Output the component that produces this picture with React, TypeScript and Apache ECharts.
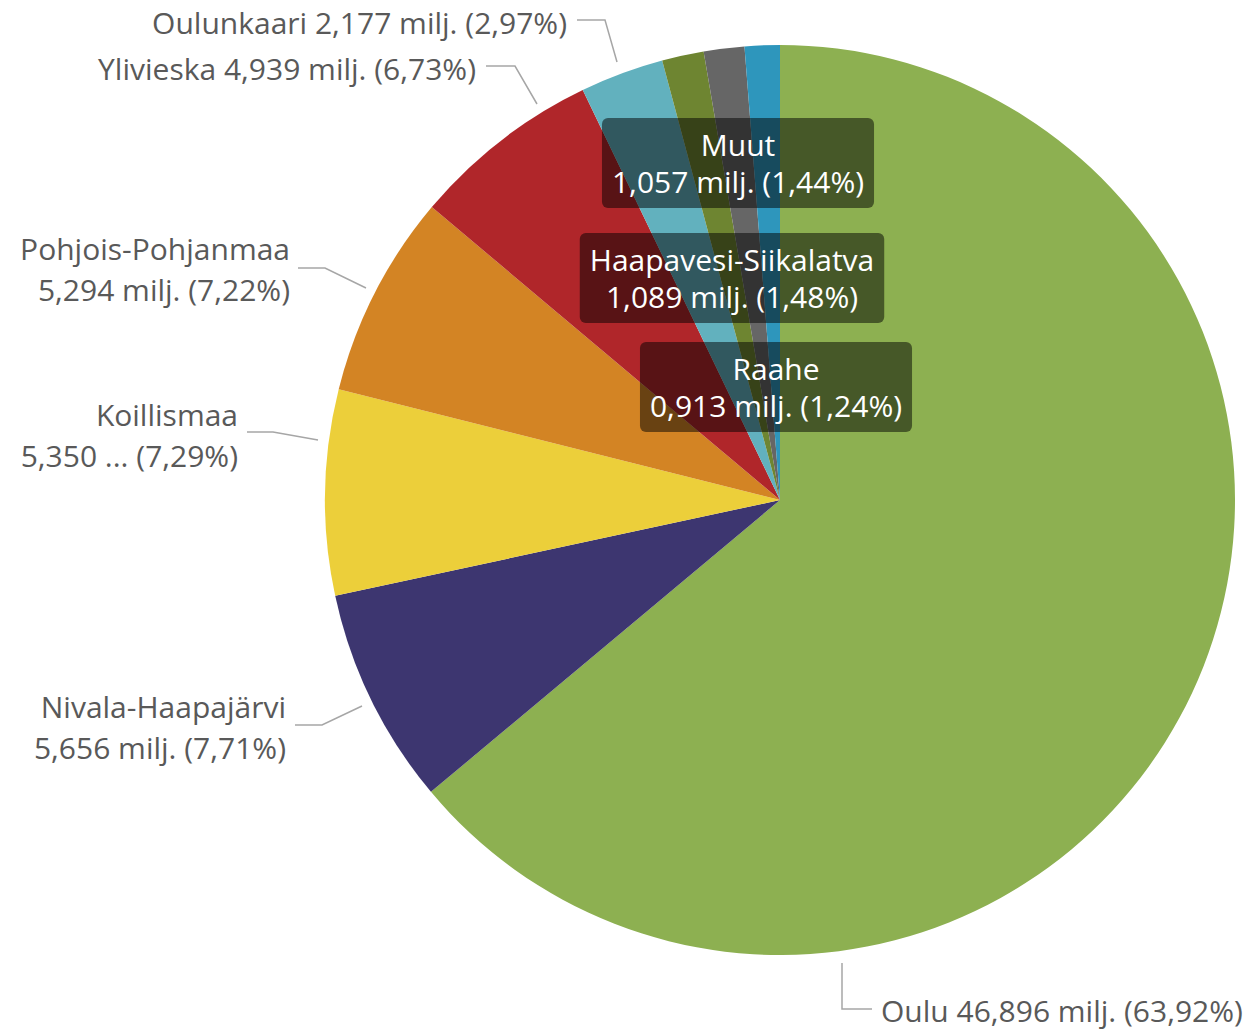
import React, { useEffect, useRef } from "react";
import * as echarts from "echarts";

const categories = [
  "Oulu",
  "Nivala-Haapajärvi",
  "Koillismaa",
  "Pohjois-Pohjanmaa",
  "Ylivieska",
  "Oulunkaari",
  "Haapavesi-Siikalatva",
  "Muut",
  "Raahe",
];
const values = [46.896, 5.656, 5.35, 5.294, 4.939, 2.177, 1.089, 1.057, 0.913];
const unitLabels = ["milj.", "milj.", "...", "milj.", "milj.", "milj.", "milj.", "milj.", "milj."];
const twoLineLabel = [false, true, true, true, false, false, true, true, true];
const boxedLabel = [false, false, false, false, false, false, true, true, true];
const colors = [
  "#8DB051",
  "#3D3670",
  "#ECCF3A",
  "#D38424",
  "#B0262A",
  "#62B1BE",
  "#6E8531",
  "#666666",
  "#2E96BC",
];

// label placement (x, y, align) and leader line points per slice
const labelPlacement: any[] = [
  { x: 881, y: 1010, align: "left", line: [[842, 963], [842, 1009], [872, 1009]] },
  { x: 286, y: 727, align: "right", line: [[362, 706], [322, 725], [295, 725]] },
  { x: 238, y: 435, align: "right", line: [[318, 440], [273, 432], [247, 432]] },
  { x: 290, y: 269, align: "right", line: [[366, 288], [325, 268], [298, 268]] },
  { x: 476, y: 68, align: "right", line: [[537, 104], [515, 66], [486, 66]] },
  { x: 567, y: 22, align: "right", line: [[617, 62], [605, 20], [577, 20]] },
  { x: 732, y: 278, align: "center", line: null },
  { x: 738, y: 163, align: "center", line: null },
  { x: 776, y: 387, align: "center", line: null },
];

const FONT = "'Open Sans', sans-serif";

export default function App() {
  const ref = useRef<HTMLDivElement>(null);
  useEffect(() => {
    document.body.style.margin = "0";
    const chart = echarts.init(ref.current!, null, { renderer: "svg" });
    const data = categories.map((name, i) => ({
      name,
      value: values[i],
      itemStyle: { color: colors[i] },
      label: boxedLabel[i]
        ? {
            color: "#ffffff",
            backgroundColor: "rgba(0,0,0,0.5)",
            borderRadius: 6,
            padding: [8, 10, 8, 10],
            lineHeight: 37,
            align: "center",
          }
        : {
            color: "#595959",
            lineHeight: 41,
          },
      labelLine: { show: !boxedLabel[i] },
    }));
    chart.setOption({
      animation: false,
      backgroundColor: "#ffffff",
      series: [
        {
          type: "pie",
          center: [780, 500],
          radius: 455,
          startAngle: 90,
          clockwise: true,
          avoidLabelOverlap: false,
          data,
          itemStyle: { borderWidth: 0 },
          label: {
            show: true,
            position: "outside",
            fontFamily: FONT,
            fontSize: 30,
            formatter: (p: any) => {
              const i = p.dataIndex;
              const v = values[i].toFixed(3).replace(".", ",");
              const pct = Number(p.percent).toFixed(2).replace(".", ",");
              const tail = `${v} ${unitLabels[i]} (${pct}%)`;
              return twoLineLabel[i] ? `${categories[i]}\n${tail}` : `${categories[i]} ${tail}`;
            },
          },
          labelLine: {
            show: true,
            lineStyle: { color: "#A6A6A6", width: 1.5 },
          },
          labelLayout: (params: any) => {
            const c = labelPlacement[params.dataIndex];
            const out: any = {
              x: c.x,
              y: c.y,
              align: c.align,
              verticalAlign: "middle",
            };
            if (c.line) out.labelLinePoints = c.line;
            return out;
          },
        },
      ],
    });
    return () => chart.dispose();
  }, []);
  return <div ref={ref} style={{ width: 1251, height: 1029 }} />;
}
